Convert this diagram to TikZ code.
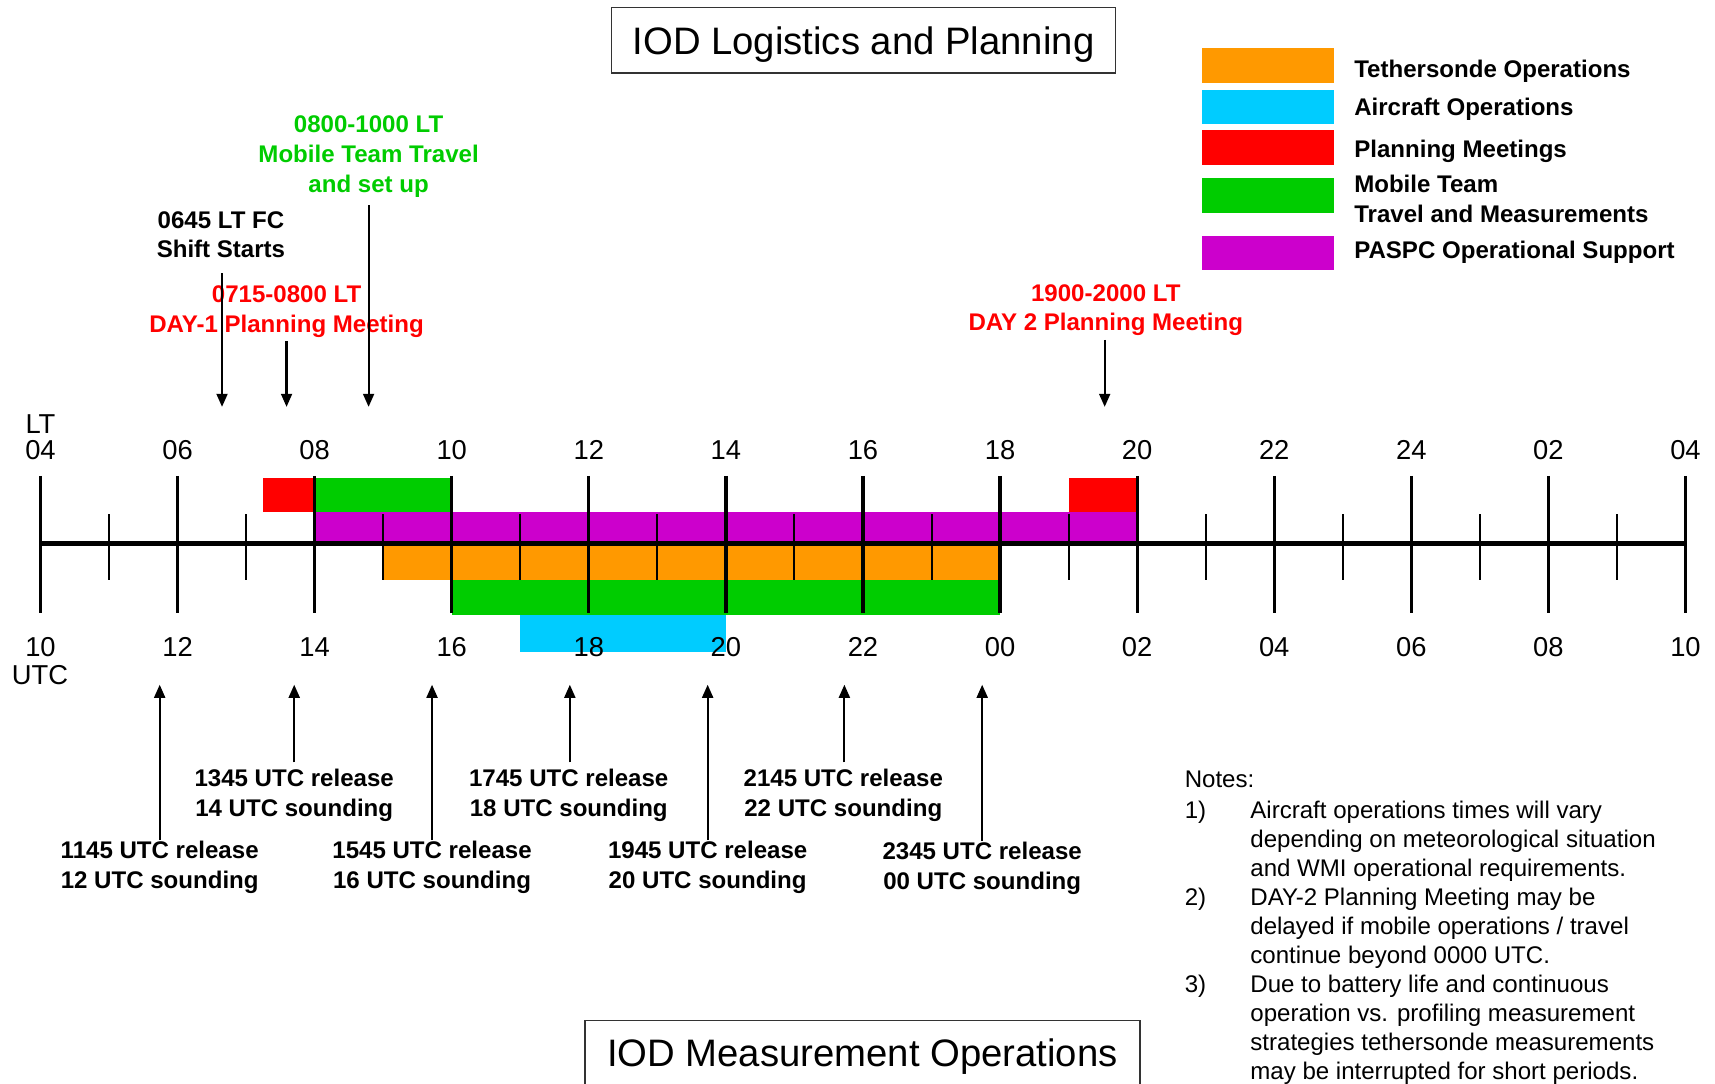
\documentclass[tikz,border=0pt]{standalone}
\usepackage{fontspec}
\setmainfont{Liberation Sans}
\usetikzlibrary{arrows.meta}
\definecolor{torange}{HTML}{FF9900}
\definecolor{tcyan}{HTML}{00CCFF}
\definecolor{tred}{HTML}{FF0000}
\definecolor{tgreen}{HTML}{00CC00}
\definecolor{tpurple}{HTML}{CC00CC}
\begin{document}
\begin{tikzpicture}[x=1pt,y=-1pt,
  lbl/.style={font=\bfseries\fontsize{22}{27}\selectfont, align=center, inner sep=0pt, anchor=north},
  axnum/.style={font=\fontsize{25}{30}\selectfont, inner sep=0pt, anchor=base},
  note/.style={font=\fontsize{22}{26.6}\selectfont, inner sep=0pt, anchor=north west, align=left},
  leg/.style={font=\bfseries\fontsize{22}{27}\selectfont, inner sep=0pt, anchor=base west, align=left},
  swatch/.style={inner sep=0pt, minimum width=121pt, minimum height=32pt},
  arr/.style={line width=2pt, -{Triangle[width=10pt,length=12pt]}},
  majortick/.style={line width=3pt},
  minortick/.style={line width=1.8pt},
  titlebox/.style={draw=black!80, line width=1.5pt, font=\fontsize{35}{40}\selectfont,
     inner sep=0pt, text height=25pt, text depth=0pt, minimum height=60pt}
]
\useasboundingbox (0,0) rectangle (1568,991);
\fill[white] (0,0) rectangle (1568,991);
\clip (0,0) rectangle (1568,991);

% titles
\node[titlebox, minimum width=461pt] (title1) at (789.5,37) {IOD Logistics and Planning};
\node[titlebox, minimum width=507pt] (title2) at (788.5,963) {IOD Measurement Operations};

% legend
\node[swatch, fill=torange] (sw1) at (1159.5,60) {};
\node[swatch, fill=tcyan, minimum height=31pt] (sw2) at (1159.5,97.5) {};
\node[swatch, fill=tred] (sw3) at (1159.5,135) {};
\node[swatch, fill=tgreen] (sw4) at (1159.5,179) {};
\node[swatch, fill=tpurple, minimum height=31pt] (sw5) at (1159.5,231.5) {};
\node[leg] (lg1) at (1238,71) {Tethersonde Operations};
\node[leg] (lg2) at (1238,106) {Aircraft Operations};
\node[leg] (lg3) at (1238,144) {Planning Meetings};
\node[leg, anchor=north west] (lg4) at (1238,160) {Mobile Team\\Travel and Measurements};
\node[leg] (lg5) at (1238,236) {PASPC Operational Support};

% bars
\fill[tred] (240.67,437) rectangle (287.67,468);
\fill[tgreen] (287.67,437) rectangle (413,468);
\fill[tred] (977,437) rectangle (1039.67,468);
\fill[tpurple] (287.67,468) rectangle (1039.67,497);
\fill[torange] (350.33,497) rectangle (914.33,530);
\fill[tgreen] (413,530) rectangle (914.33,562);
\fill[tcyan] (475.67,562) rectangle (663.67,596);

% axis
\foreach \i in {0,...,12} \draw[majortick] ({37+\i*125.333},435) -- ({37+\i*125.333},560);
\foreach \i in {0,...,11} \draw[minortick] ({99.667+\i*125.333},470) -- ({99.667+\i*125.333},530);
\draw[line width=4pt] (37,497) -- (1541,497);

\node[axnum] (ltlab) at (37,396) {LT};
\node[axnum] (utclab) at (36.5,626) {UTC};
\foreach \t [count=\i from 0] in {04,06,08,10,12,14,16,18,20,22,24,02,04}
  \node[axnum] (lt\i) at ({37+\i*125.333},420) {\t};
\foreach \t [count=\i from 0] in {10,12,14,16,18,20,22,00,02,04,06,08,10}
  \node[axnum] (utc\i) at ({37+\i*125.333},600) {\t};

% top annotations
\node[lbl] (l0645) at (202,193) {0645 LT FC\\Shift Starts};
\node[lbl, text=tred] (l0715) at (262,261) {0715-0800 LT\\DAY-1 Planning Meeting};
\node[lbl, text=tgreen] (l0800) at (337,106) {0800-1000 LT\\Mobile Team Travel\\and set up};
\node[lbl, text=tred] (l1900) at (1011,260) {1900-2000 LT\\DAY 2 Planning Meeting};
\coordinate (t0645) at (203,372);
\coordinate (t0715) at (262,372);
\coordinate (t0800) at (337,372);
\coordinate (t1900) at (1010,372);
\draw[arr, shorten <=14pt] (t0645 |- l0645.south) -- (t0645);
\draw[arr, shorten <=3.4pt] (t0715 |- l0715.south) -- (t0715);
\draw[arr, shorten <=7.4pt] (t0800 |- l0800.south) -- (t0800);
\draw[arr, shorten <=3.4pt] (t1900 |- l1900.south) -- (t1900);

% bottom annotations
\node[lbl] (b1145) at (146,769) {1145 UTC release\\12 UTC sounding};
\node[lbl] (b1345) at (269,703) {1345 UTC release\\14 UTC sounding};
\node[lbl] (b1545) at (395,769) {1545 UTC release\\16 UTC sounding};
\node[lbl] (b1745) at (520,703) {1745 UTC release\\18 UTC sounding};
\node[lbl] (b1945) at (647,769) {1945 UTC release\\20 UTC sounding};
\node[lbl] (b2145) at (771,703) {2145 UTC release\\22 UTC sounding};
\node[lbl] (b2345) at (898,770) {2345 UTC release\\00 UTC sounding};
\coordinate (u1145) at (146,626);
\coordinate (u1345) at (269,626);
\coordinate (u1545) at (395,626);
\coordinate (u1745) at (521,626);
\coordinate (u1945) at (647,626);
\coordinate (u2145) at (772,626);
\coordinate (u2345) at (898,626);
\draw[arr, shorten <=1pt] (u1145 |- b1145.north) -- (u1145);
\draw[arr, shorten <=6pt] (u1345 |- b1345.north) -- (u1345);
\draw[arr, shorten <=1pt] (u1545 |- b1545.north) -- (u1545);
\draw[arr, shorten <=6pt] (u1745 |- b1745.north) -- (u1745);
\draw[arr, shorten <=1pt] (u1945 |- b1945.north) -- (u1945);
\draw[arr, shorten <=6pt] (u2145 |- b2145.north) -- (u2145);
\draw[arr, shorten <=1pt] (u2345 |- b2345.north) -- (u2345);

% notes
\node[note] (noteshead) at (1083,705) {Notes:};
\node[note] (n1) at (1083,732) {1)};
\node[note] (n1t) at (1143,732) {Aircraft operations times will vary\\depending on meteorological situation\\and WMI operational requirements.};
\node[note] (n2) at (1083,812) {2)};
\node[note] (n2t) at (1143,812) {DAY-2 Planning Meeting may be\\delayed if mobile operations / travel\\continue beyond 0000 UTC.};
\node[note] (n3) at (1083,891) {3)};
\node[note] (n3t) at (1143,891) {Due to battery life and continuous\\operation vs. profiling measurement\\strategies tethersonde measurements\\may be interrupted for short periods.};
\end{tikzpicture}
\end{document}
